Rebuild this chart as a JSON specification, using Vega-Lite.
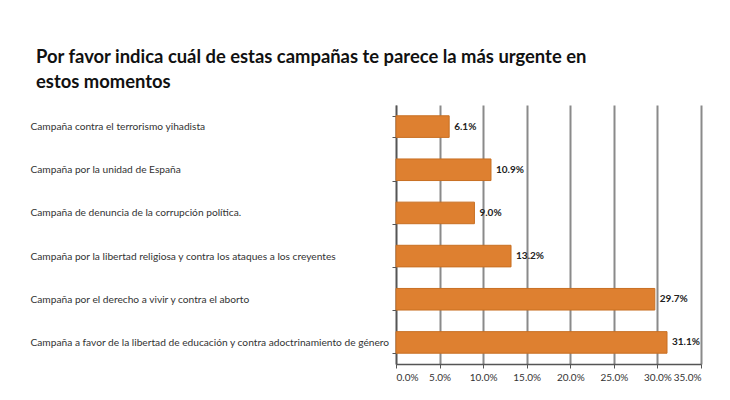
{
  "$schema": "https://vega.github.io/schema/vega-lite/v6.json",
  "width": 305,
  "height": 259,
  "autosize": "none",
  "padding": {"left": 396, "top": 105, "right": 29, "bottom": 36},
  "background": "white",
  "title": {
    "text": ["Por favor indica cuál de estas campañas te parece la más urgente en", "estos momentos"],
    "anchor": "start",
    "frame": "bounds",
    "dx": 6,
    "offset": 9,
    "font": "Lato",
    "fontSize": 18.4,
    "fontWeight": "bold",
    "lineHeight": 25,
    "color": "#111111"
  },
  "data": {
    "values": [
      {"campana": "Campaña contra el terrorismo yihadista", "valor": 0.061},
      {"campana": "Campaña por la unidad de España", "valor": 0.109},
      {"campana": "Campaña de denuncia de la corrupción política.", "valor": 0.09},
      {"campana": "Campaña por la libertad religiosa y contra los ataques a los creyentes", "valor": 0.132},
      {"campana": "Campaña por el derecho a vivir y contra el aborto", "valor": 0.297},
      {"campana": "Campaña a favor de la libertad de educación y contra adoctrinamiento de género", "valor": 0.311}
    ]
  },
  "encoding": {
    "y": {
      "field": "campana",
      "type": "nominal",
      "sort": null,
      "scale": {"paddingInner": 0.5, "paddingOuter": 0.25},
      "axis": {
        "title": null,
        "labelAlign": "left",
        "labelPadding": 362,
        "labelLimit": 400,
        "labelFont": "Lato",
        "labelFontSize": 10.2,
        "labelColor": "#333333",
        "tickBand": "extent",
        "tickColor": "#555555",
        "tickSize": 4,
        "domainColor": "#555555",
        "domainWidth": 1.5
      }
    },
    "x": {
      "field": "valor",
      "type": "quantitative",
      "scale": {"domain": [0, 0.35]},
      "axis": {
        "title": null,
        "format": ".1%",
        "values": [0, 0.05, 0.1, 0.15, 0.2, 0.25, 0.3, 0.35],
        "labelFont": "Lato",
        "labelFontSize": 10,
        "labelColor": "#333333",
        "labelPadding": 4,
        "tickColor": "#555555",
        "tickSize": 4,
        "domainColor": "#555555",
        "domainWidth": 1.5,
        "grid": true,
        "gridColor": "#8a8a8a",
        "gridWidth": 2
      }
    }
  },
  "layer": [
    {
      "mark": {"type": "bar", "color": "#DE8030", "stroke": "#C86F22", "strokeWidth": 1}
    },
    {
      "mark": {"type": "text", "align": "left", "dx": 5, "font": "Lato", "fontSize": 10, "fontWeight": "bold", "color": "#222222"},
      "encoding": {"text": {"field": "valor", "type": "quantitative", "format": ".1%"}}
    }
  ],
  "config": {"view": {"stroke": null}}
}
